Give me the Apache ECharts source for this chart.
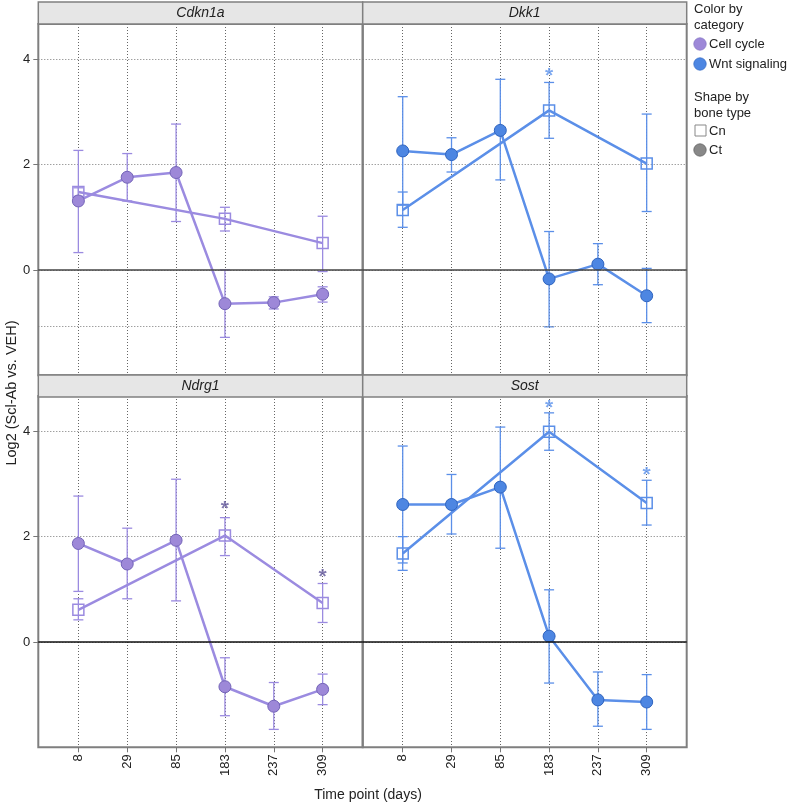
<!DOCTYPE html>
<html><head><meta charset="utf-8">
<script src="https://cdn.jsdelivr.net/npm/echarts@6/dist/echarts.min.js"></script>
<style>html,body{margin:0;padding:0;background:#fff}#c{width:790px;height:805px}</style>
</head><body><div id="c"></div>
<script>
// ---------- data ----------
const timepoints = ['8', '29', '85', '183', '237', '309'];
const panelGenes = ['Cdkn1a', 'Dkk1', 'Ndrg1', 'Sost'];
const panelCategory = ['Cell cycle', 'Wnt signaling', 'Cell cycle', 'Wnt signaling'];
const yTickValues = [0, 2, 4];

// Cdkn1a
const cdkn1aCt   = [1.31, 1.76, 1.85, -0.64, -0.62, -0.46];
const cdkn1aCtLo = [0.33, 1.31, 0.92, -1.28, -0.74, -0.61];
const cdkn1aCtHi = [2.27, 2.21, 2.77, 0.00, -0.51, -0.32];
const cdkn1aCn   = [1.48, null, null, 0.97, null, 0.51];
const cdkn1aCnLo = [1.40, null, null, 0.74, null, -0.03];
const cdkn1aCnHi = [1.56, null, null, 1.19, null, 1.02];
const cdkn1aStar = [null, null, null, null, null, null];

// Dkk1
const dkk1Ct   = [2.26, 2.19, 2.65, -0.17, 0.11, -0.49];
const dkk1CtLo = [1.23, 1.86, 1.71, -1.08, -0.28, -1.00];
const dkk1CtHi = [3.29, 2.51, 3.62, 0.73, 0.50, 0.03];
const dkk1Cn   = [1.14, null, null, 3.03, null, 2.02];
const dkk1CnLo = [0.81, null, null, 2.50, null, 1.11];
const dkk1CnHi = [1.48, null, null, 3.56, null, 2.96];
const dkk1Star = [null, null, null, 3.77, null, null];

// Ndrg1
const ndrg1Ct   = [1.87, 1.48, 1.93, -0.85, -1.22, -0.90];
const ndrg1CtLo = [0.96, 0.82, 0.78, -1.40, -1.66, -1.19];
const ndrg1CtHi = [2.77, 2.16, 3.09, -0.30, -0.77, -0.61];
const ndrg1Cn   = [0.61, null, null, 2.02, null, 0.74];
const ndrg1CnLo = [0.42, null, null, 1.64, null, 0.37];
const ndrg1CnHi = [0.82, null, null, 2.36, null, 1.11];
const ndrg1Star = [null, null, null, 2.62, null, 1.32];

// Sost
const sostCt   = [2.61, 2.61, 2.94, 0.11, -1.10, -1.14];
const sostCtLo = [1.50, 2.05, 1.78, -0.78, -1.60, -1.66];
const sostCtHi = [3.72, 3.18, 4.08, 0.99, -0.57, -0.62];
const sostCn   = [1.68, null, null, 3.99, null, 2.64];
const sostCnLo = [1.36, null, null, 3.64, null, 2.22];
const sostCnHi = [2.00, null, null, 4.35, null, 3.07];
const sostStar = [null, null, null, 4.54, null, 3.27];

// ---------- styling ----------
const FONT = 'Liberation Sans, Arial, sans-serif';
const palette = {
  'Cell cycle':    { fill: '#9d88d8', border: '#7464b8', line: '#9b8be0', star: '#62569a' },
  'Wnt signaling': { fill: '#4d86e2', border: '#2f64bf', line: '#5b8fe8', star: '#5e93ec' }
};
const panels = [
  { ct: cdkn1aCt, ctLo: cdkn1aCtLo, ctHi: cdkn1aCtHi, cn: cdkn1aCn, cnLo: cdkn1aCnLo, cnHi: cdkn1aCnHi, star: cdkn1aStar },
  { ct: dkk1Ct, ctLo: dkk1CtLo, ctHi: dkk1CtHi, cn: dkk1Cn, cnLo: dkk1CnLo, cnHi: dkk1CnHi, star: dkk1Star },
  { ct: ndrg1Ct, ctLo: ndrg1CtLo, ctHi: ndrg1CtHi, cn: ndrg1Cn, cnLo: ndrg1CnLo, cnHi: ndrg1CnHi, star: ndrg1Star },
  { ct: sostCt, ctLo: sostCtLo, ctHi: sostCtHi, cn: sostCn, cnLo: sostCnLo, cnHi: sostCnHi, star: sostStar }
];

const gridBoxes = [
  { left: 38.3, top: 24, width: 324.4, height: 351.3 },
  { left: 362.7, top: 24, width: 324, height: 351.3 },
  { left: 38.3, top: 396, width: 324.4, height: 351.3 },
  { left: 362.7, top: 396, width: 324, height: 351.3 }
];

const idx = timepoints.map((_, i) => i);
const pts = arr => arr.map((v, i) => v == null ? null : [i, v]).filter(d => d);
const errs = (m, lo, hi) => m.map((v, i) => v == null ? null : [i, lo[i], hi[i]]).filter(d => d);

function errRender(params, api) {
  const x = api.value(0), lo = api.value(1), hi = api.value(2);
  const a = api.coord([x, hi]), b = api.coord([x, lo]);
  const w = 5;
  const style = { stroke: api.visual('color'), lineWidth: 1.3, fill: null };
  return { type: 'group', children: [
    { type: 'line', shape: { x1: a[0], y1: a[1], x2: b[0], y2: b[1] }, style },
    { type: 'line', shape: { x1: a[0] - w, y1: a[1], x2: a[0] + w, y2: a[1] }, style },
    { type: 'line', shape: { x1: b[0] - w, y1: b[1], x2: b[0] + w, y2: b[1] }, style }
  ]};
}

const grid = [], xAxis = [], yAxis = [], series = [];
panels.forEach((p, g) => {
  const col = palette[panelCategory[g]];
  const isBottom = g >= 2, isLeft = g % 2 === 0;
  grid.push(Object.assign({ show: true, borderColor: '#7f7f7f', borderWidth: 2, backgroundColor: 'transparent', containLabel: false }, gridBoxes[g]));
  xAxis.push({
    type: 'value', gridIndex: g, min: -0.82, max: 5.82, position: 'bottom',
    axisLine: { show: false, onZero: false },
    axisTick: { show: isBottom, customValues: idx, length: 5, lineStyle: { color: '#777' } },
    axisLabel: { show: isBottom, customValues: idx, rotate: 90, margin: 7,
      formatter: v => timepoints[Math.round(v)], fontFamily: FONT, fontSize: 13, color: '#222' },
    splitLine: { show: true, lineStyle: { color: '#666', type: [1, 2], width: 1 } }
  });
  yAxis.push({
    type: 'value', gridIndex: g, min: -2, max: 4.67, position: 'left',
    axisLine: { show: false, onZero: false },
    axisTick: { show: isLeft, customValues: yTickValues, length: 5, lineStyle: { color: '#777' } },
    axisLabel: { show: isLeft, customValues: yTickValues, margin: 8, fontFamily: FONT, fontSize: 13, color: '#222' },
    splitLine: { show: true, lineStyle: { color: '#777', type: [1, 2], width: 1 } }
  });
  const zeroLines = [{ yAxis: 0, lineStyle: { color: isBottom ? '#111' : '#444', width: 1.5, type: 'solid' } }];
  if (!isBottom) zeroLines.push({ yAxis: -1.07, lineStyle: { color: '#777', width: 1, type: [1, 2] } });
  series.push({
    type: 'custom', xAxisIndex: g, yAxisIndex: g, renderItem: errRender,
    itemStyle: { color: col.line }, encode: { x: 0, y: [1, 2] },
    data: errs(p.ct, p.ctLo, p.ctHi), z: 2, silent: true
  });
  series.push({
    type: 'custom', xAxisIndex: g, yAxisIndex: g, renderItem: errRender,
    itemStyle: { color: col.line }, encode: { x: 0, y: [1, 2] },
    data: errs(p.cn, p.cnLo, p.cnHi), z: 2, silent: true
  });
  series.push({
    type: 'line', xAxisIndex: g, yAxisIndex: g, data: pts(p.cn),
    symbol: 'rect', symbolSize: 11, showAllSymbol: true,
    lineStyle: { color: col.line, width: 2.5 },
    itemStyle: { color: 'rgba(255,255,255,0)', borderColor: col.line, borderWidth: 1.5 },
    z: 3, silent: true, animation: false
  });
  series.push({
    type: 'line', xAxisIndex: g, yAxisIndex: g, data: pts(p.ct),
    symbol: 'circle', symbolSize: 12, showAllSymbol: true,
    lineStyle: { color: col.line, width: 2.5 },
    itemStyle: { color: col.fill, borderColor: col.border, borderWidth: 1 },
    markLine: { silent: true, symbol: 'none', label: { show: false }, data: zeroLines, animation: false },
    z: 4, silent: true, animation: false
  });
  series.push({
    type: 'scatter', xAxisIndex: g, yAxisIndex: g, data: pts(p.star),
    symbol: 'circle', symbolSize: 2,
    itemStyle: { color: 'rgba(0,0,0,0)' },
    label: { show: true, position: 'inside', formatter: '*', offset: [0, 5],
      fontFamily: FONT, fontSize: 21, fontWeight: 'bold', color: col.star },
    z: 5, silent: true, animation: false
  });
});

// ---------- headers, axis titles, legend ----------
const graphic = [];
gridBoxes.forEach((b, g) => {
  const top = g < 2 ? 2 : 375;
  graphic.push({ type: 'rect', shape: { x: b.left, y: top, width: b.width, height: 22 },
    style: { fill: '#e6e6e6', stroke: '#808080', lineWidth: 1.5 }, z: 10 });
  graphic.push({ type: 'text', x: b.left + b.width / 2, y: top + 11,
    style: { text: panelGenes[g], fontFamily: FONT, fontSize: 14, fontStyle: 'italic', fill: '#222',
      textAlign: 'center', textVerticalAlign: 'middle' }, z: 11 });
});
graphic.push({ type: 'text', x: 12, y: 393, rotation: Math.PI / 2,
  style: { text: 'Log2 (Scl-Ab vs. VEH)', fontFamily: FONT, fontSize: 14.5, fill: '#222',
    textAlign: 'center', textVerticalAlign: 'middle' } });
graphic.push({ type: 'text', x: 368, y: 795,
  style: { text: 'Time point (days)', fontFamily: FONT, fontSize: 14, fill: '#222',
    textAlign: 'center', textVerticalAlign: 'middle' } });

const LX = 694;
const legendText = (t, x, y) => ({ type: 'text', x, y,
  style: { text: t, fontFamily: FONT, fontSize: 13, fill: '#222', textVerticalAlign: 'middle' } });
graphic.push(legendText('Color by', LX, 9));
graphic.push(legendText('category', LX, 25));
graphic.push({ type: 'circle', shape: { cx: 700, cy: 44, r: 6.2 },
  style: { fill: palette['Cell cycle'].fill, stroke: '#8a7bc8', lineWidth: 0.8 } });
graphic.push(legendText('Cell cycle', 709, 44));
graphic.push({ type: 'circle', shape: { cx: 700, cy: 64, r: 6.2 },
  style: { fill: palette['Wnt signaling'].fill, stroke: '#3c70c8', lineWidth: 0.8 } });
graphic.push(legendText('Wnt signaling', 709, 64));
graphic.push(legendText('Shape by', LX, 97));
graphic.push(legendText('bone type', LX, 113));
graphic.push({ type: 'rect', shape: { x: 695, y: 125, width: 11, height: 11 },
  style: { fill: '#fff', stroke: '#888', lineWidth: 1 } });
graphic.push(legendText('Cn', 709, 131));
graphic.push({ type: 'circle', shape: { cx: 700, cy: 150, r: 6.2 },
  style: { fill: '#888', stroke: '#666', lineWidth: 0.8 } });
graphic.push(legendText('Ct', 709, 150));

const chart = echarts.init(document.getElementById('c'), null, { renderer: 'canvas' });
chart.setOption({
  animation: false,
  backgroundColor: '#fff',
  grid, xAxis, yAxis, series, graphic
});
</script></body></html>
